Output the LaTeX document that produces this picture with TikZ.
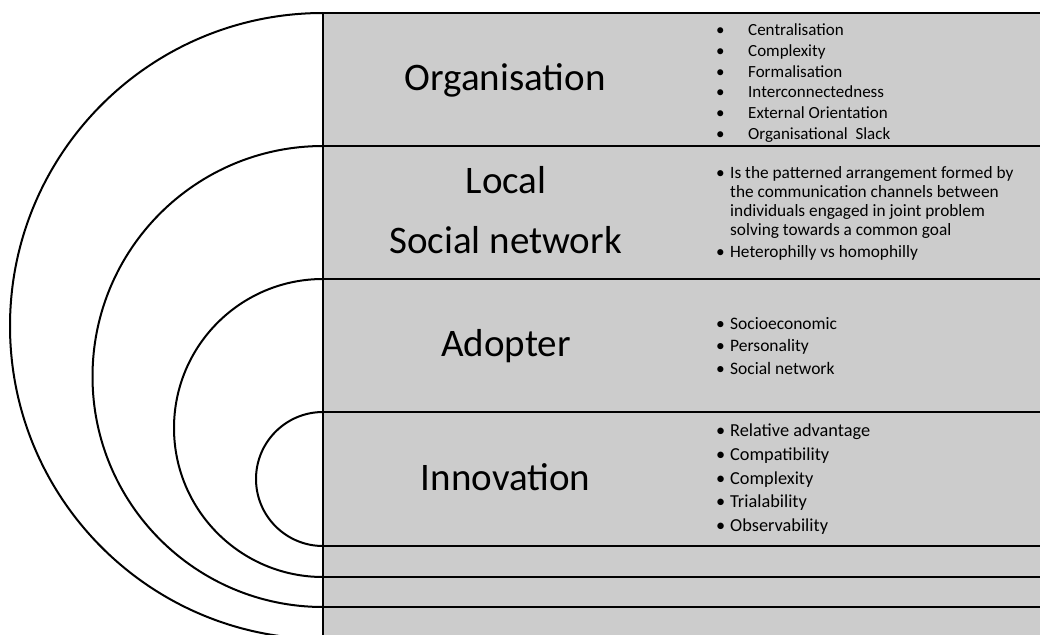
\documentclass[tikz,border=0pt]{standalone}
\usepackage{fontspec}
\setmainfont{Carlito}
\usepackage{tikz}
\usepackage{color}
\definecolor{panelgray}{HTML}{CCCCCC}
\newcommand{\bulletbox}[1]{\makebox[#1][l]{\textbullet}}

\tikzset{
  heading/.style={inner sep=0pt, anchor=base, font=\fontsize{39}{47}\selectfont},
  bulletline/.style={inner sep=0pt, anchor=base west, font=\fontsize{#1}{#1}\selectfont},
  band/.style={line width=2.5pt},
  ring/.style={line width=2pt}
}

\begin{document}
\begin{tikzpicture}[x=1pt,y=-1pt]

\useasboundingbox (0,0) rectangle (1040,634);

% grey panel
\fill[panelgray] (323,13) rectangle (1040,640);

% the four half rings
\draw[ring] (323,13) arc[start angle=-90, end angle=-270, radius=313];
\draw[ring] (323,146) arc[start angle=-90, end angle=-270, radius=230.5];
\draw[ring] (323,279) arc[start angle=-90, end angle=-270, radius=149];
\draw[ring] (323,412) arc[start angle=-90, end angle=-270, radius=67];

% bands
\draw[band] (323,13) -- (1040,13);
\draw[band] (323,146) -- (1040,146);
\draw[band] (323,279) -- (1040,279);
\draw[band] (323,412) -- (1040,412);
\draw[band] (323,546) -- (1040,546);
\draw[band] (323,577) -- (1040,577);
\draw[band] (323,607) -- (1040,607);
\draw[band] (323,13) -- (323,640);

% headings
\node[heading] (org) at (505,90.7) {Organisation};
\node[heading] (local) at (506,193) {Local};
\node[heading] (socnet) at (505.5,253) {Social network};
\node[heading] (adopter) at (506,356) {Adopter};
\node[heading] (innov) at (505.5,490) {Innovation};

% organisation
\node[bulletline=17] (org1) at (716,36) {\bulletbox{32pt}Centralisation};
\node[bulletline=17] (org2) at (716,56.6) {\bulletbox{32pt}Complexity};
\node[bulletline=17] (org3) at (716,77.2) {\bulletbox{32pt}Formalisation};
\node[bulletline=17] (org4) at (716,97.8) {\bulletbox{32pt}Interconnectedness};
\node[bulletline=17] (org5) at (716,118.4) {\bulletbox{32pt}External Orientation};
\node[bulletline=17] (org6) at (716,139) {\bulletbox{32pt}Organisational\ \ Slack};

% local social network
\node[bulletline=17.3] (net1) at (716,178) {\bulletbox{14pt}Is the patterned arrangement formed by};
\node[bulletline=17.3] (net2) at (730,197) {the communication channels between};
\node[bulletline=17.3] (net3) at (730,216) {individuals engaged in joint problem};
\node[bulletline=17.3] (net4) at (730,235) {solving towards a common goal};
\node[bulletline=17.3] (net5) at (716,257) {\bulletbox{14pt}Heterophilly vs homophilly};

% adopter
\node[bulletline=17.5] (ado1) at (716,329.3) {\bulletbox{14pt}Socioeconomic};
\node[bulletline=17.5] (ado2) at (716,351.7) {\bulletbox{14pt}Personality};
\node[bulletline=17.5] (ado3) at (716,374) {\bulletbox{14pt}Social network};

% innovation
\node[bulletline=18.3] (inn1) at (716,436.7) {\bulletbox{14pt}Relative advantage};
\node[bulletline=18.3] (inn2) at (716,460.4) {\bulletbox{14pt}Compatibility};
\node[bulletline=18.3] (inn3) at (716,484.1) {\bulletbox{14pt}Complexity};
\node[bulletline=18.3] (inn4) at (716,507.8) {\bulletbox{14pt}Trialability};
\node[bulletline=18.3] (inn5) at (716,531.5) {\bulletbox{14pt}Observability};

\end{tikzpicture}
\end{document}
